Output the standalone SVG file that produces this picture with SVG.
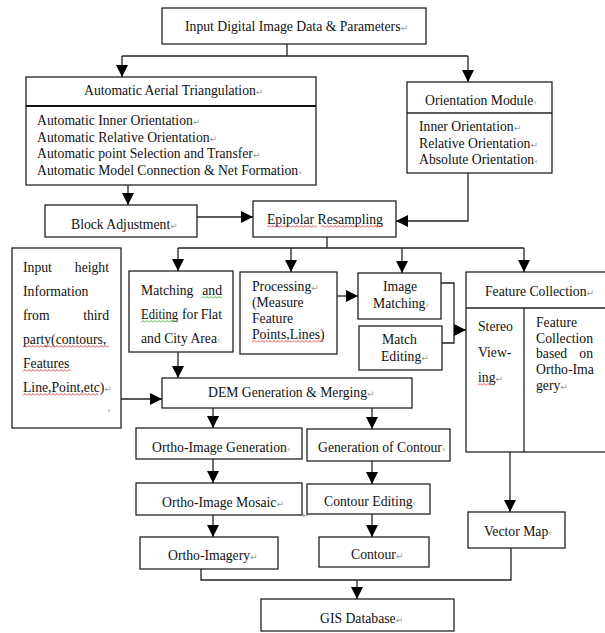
<svg xmlns="http://www.w3.org/2000/svg" width="605" height="633" viewBox="0 0 605 633">
<style>
.b{fill:#fff;stroke:#222;stroke-width:1.3}
.t{font-family:"Liberation Serif","Times New Roman",serif;font-size:13.7px;fill:#111}
.pm{font-family:"DejaVu Sans",sans-serif;font-size:9px;fill:#999}
.c{fill:none;stroke:#222;stroke-width:1.3}
.a{marker-end:url(#ah)}
</style>
<defs>
<marker id="ah" viewBox="0 0 12 12" refX="12" refY="6" markerWidth="12" markerHeight="12" markerUnits="userSpaceOnUse" orient="auto"><path d="M0,0 L12,6 L0,12 z" fill="#000"/></marker>
<pattern id="wr" width="4" height="3" patternUnits="userSpaceOnUse"><path d="M0,2.5 L2,0.5 L4,2.5" fill="none" stroke="#e02020" stroke-width="0.8"/></pattern>
<pattern id="wg" width="4" height="3" patternUnits="userSpaceOnUse"><path d="M0,2.5 L2,0.5 L4,2.5" fill="none" stroke="#20a020" stroke-width="0.8"/></pattern>
</defs>
<rect width="605" height="633" fill="#fff"/>

<g id="connectors">
<path class="c" d="M287,44 V56 M122,56 H468"/>
<path class="c a" d="M122,56 V77"/>
<path class="c a" d="M468,56 V82"/>
<path class="c a" d="M128,185 V205"/>
<path class="c a" d="M197,217 H253"/>
<path class="c a" d="M468,173 V221 H396"/>
<path class="c" d="M327,237 V248 M178,248 H524"/>
<path class="c a" d="M178,248 V271"/>
<path class="c a" d="M291,248 V272"/>
<path class="c a" d="M402,248 V273"/>
<path class="c a" d="M524,248 V272"/>
<path class="c a" d="M178,352 V378"/>
<path class="c a" d="M121,399 H162"/>
<path class="c a" d="M337,296 H358"/>
<path class="c" d="M441,283 H454 V343 H442"/>
<path class="c a" d="M454,330 H466"/>
<path class="c a" d="M213,408 V428"/>
<path class="c a" d="M372,408 V429"/>
<path class="c a" d="M213,459 V483"/>
<path class="c a" d="M372,461 V484"/>
<path class="c a" d="M213,515 V537"/>
<path class="c a" d="M372,514 V537"/>
<path class="c a" d="M510,452 V512"/>
<path class="c" d="M201,569 V580 H511 V548"/>
<path class="c a" d="M357,580 V599"/>
</g>

<g id="input">
<rect class="b" x="162" y="8" width="264" height="36"/>
<text class="t" x="185" y="31">Input Digital Image Data &amp; Parameters<tspan class="pm">↵</tspan></text>
</g>

<g id="aat">
<rect class="b" x="26" y="77" width="290" height="108"/>
<line x1="26" y1="106" x2="316" y2="106" stroke="#111" stroke-width="2.2"/>
<text class="t" x="84" y="95">Automatic Aerial Triangulation<tspan class="pm">↵</tspan></text>
<text class="t" x="37" y="124.5">Automatic Inner Orientation<tspan class="pm">↵</tspan></text>
<text class="t" x="37" y="141.5">Automatic Relative Orientation<tspan class="pm">↵</tspan></text>
<text class="t" x="37" y="158">Automatic point Selection and Transfer<tspan class="pm">↵</tspan></text>
<text class="t" x="37" y="175">Automatic Model Connection &amp; Net Formation<tspan class="pm">‹</tspan></text>
</g>

<g id="orientation">
<rect class="b" x="407" y="82" width="145" height="91"/>
<line class="c" x1="407" y1="113" x2="552" y2="113"/>
<text class="t" x="425" y="105">Orientation Module<tspan class="pm">‹</tspan></text>
<text class="t" x="419" y="131">Inner Orientation<tspan class="pm">↵</tspan></text>
<text class="t" x="419" y="147.5">Relative Orientation<tspan class="pm">↵</tspan></text>
<text class="t" x="419" y="163.5">Absolute Orientation<tspan class="pm">‹</tspan></text>
</g>

<g id="block">
<rect class="b" x="45" y="205" width="152" height="32"/>
<text class="t" x="71" y="229">Block Adjustment<tspan class="pm">↵</tspan></text>
</g>

<g id="epipolar">
<rect class="b" x="253" y="201" width="143" height="36"/>
<text class="t" x="267" y="224">Epipolar Resampling</text>
<rect transform="translate(267,225)" width="50" height="3" fill="url(#wr)"/>
<rect transform="translate(321,225)" width="62" height="3" fill="url(#wr)"/>
</g>

<g id="height">
<rect class="b" x="12" y="248" width="109" height="180"/>
<text class="t" x="23" y="272">Input</text>
<text class="t" x="109" y="272" text-anchor="end">height</text>
<text class="t" x="23" y="296">Information</text>
<text class="t" x="23" y="320">from</text>
<text class="t" x="109" y="320" text-anchor="end">third</text>
<text class="t" x="23" y="344">party(contours,</text>
<rect transform="translate(23,345)" width="86" height="3" fill="url(#wr)"/>
<text class="t" x="23" y="368">Features</text>
<rect transform="translate(23,369)" width="48" height="3" fill="url(#wr)"/>
<text class="t" x="23" y="392">Line,Point,etc)<tspan class="pm">↵</tspan></text>
<rect transform="translate(23,393)" width="76" height="3" fill="url(#wr)"/>
<text class="pm" x="107" y="413">‹</text>
</g>

<g id="matching">
<rect class="b" x="129" y="271" width="104" height="81"/>
<text class="t" x="141" y="295">Matching</text>
<text class="t" x="222" y="295" text-anchor="end">and</text>
<rect transform="translate(201,296)" width="21" height="3" fill="url(#wg)"/>
<text class="t" x="141" y="319" textLength="37" lengthAdjust="spacingAndGlyphs">Editing</text>
<rect transform="translate(141,320)" width="37" height="3" fill="url(#wg)"/>
<text class="t" x="190" y="319" text-anchor="middle">for</text>
<text class="t" x="222" y="319" text-anchor="end">Flat</text>
<text class="t" x="141" y="343">and City Area<tspan class="pm">‹</tspan></text>
</g>

<g id="processing">
<rect class="b" x="240" y="272" width="97" height="82"/>
<text class="t" x="252" y="291">Processing<tspan class="pm">↵</tspan></text>
<text class="t" x="252" y="307">(Measure</text>
<text class="t" x="252" y="323">Feature</text>
<text class="t" x="252" y="339">Points,Lines)</text>
<rect transform="translate(252,340)" width="72" height="3" fill="url(#wr)"/>
</g>

<g id="imagematching">
<rect class="b" x="358" y="273" width="83" height="46"/>
<text class="t" x="383" y="291">Image</text>
<text class="t" x="373" y="308">Matching<tspan class="pm">‹</tspan></text>
</g>

<g id="matchediting">
<rect class="b" x="359" y="326" width="83" height="44"/>
<text class="t" x="382" y="344">Match</text>
<text class="t" x="381" y="361">Editing<tspan class="pm">↵</tspan></text>
</g>

<g id="feature">
<rect class="b" x="466" y="272" width="142" height="180"/>
<line class="c" x1="466" y1="308" x2="608" y2="308"/>
<line class="c" x1="524" y1="308" x2="524" y2="452"/>
<text class="t" x="485" y="296">Feature Collection<tspan class="pm">↵</tspan></text>
<text class="t" x="478" y="331">Stereo</text>
<text class="t" x="478" y="357">View-</text>
<text class="t" x="478" y="382">ing<tspan class="pm">↵</tspan></text>
<rect transform="translate(478,383)" width="16" height="3" fill="url(#wr)"/>
<text class="t" x="536" y="327">Feature</text>
<text class="t" x="536" y="343">Collection</text>
<text class="t" x="536" y="358">based</text>
<text class="t" x="593" y="358" text-anchor="end">on</text>
<text class="t" x="536" y="374">Ortho-Ima</text>
<text class="t" x="536" y="390">gery<tspan class="pm">↵</tspan></text>
</g>

<g id="dem">
<rect class="b" x="162" y="378" width="250" height="30"/>
<text class="t" x="208" y="397">DEM Generation &amp; Merging<tspan class="pm">↵</tspan></text>
</g>

<g id="orthogen">
<rect class="b" x="136" y="428" width="166" height="31"/>
<text class="t" x="152" y="452">Ortho-Image Generation<tspan class="pm">‹</tspan></text>
</g>

<g id="gencontour">
<rect class="b" x="307" y="429" width="143" height="32"/>
<text class="t" x="318" y="452">Generation of Contour<tspan class="pm">‹</tspan></text>
</g>

<g id="orthomosaic">
<rect class="b" x="136" y="483" width="166" height="32"/>
<text class="t" x="162" y="507">Ortho-Image Mosaic<tspan class="pm">↵</tspan></text>
<text class="pm" x="302" y="518">↵</text>
</g>

<g id="contourediting">
<rect class="b" x="307" y="484" width="123" height="30"/>
<text class="t" x="324" y="506">Contour Editing<tspan class="pm">‹</tspan></text>
</g>

<g id="orthoimagery">
<rect class="b" x="140" y="537" width="138" height="32"/>
<text class="t" x="168" y="560">Ortho-Imagery<tspan class="pm">↵</tspan></text>
</g>

<g id="contour">
<rect class="b" x="319" y="537" width="110" height="30"/>
<text class="t" x="351" y="559">Contour<tspan class="pm">↵</tspan></text>
</g>

<g id="vectormap">
<rect class="b" x="468" y="512" width="97" height="36"/>
<text class="t" x="484" y="536">Vector Map<tspan class="pm">‹</tspan></text>
</g>

<g id="gis">
<rect class="b" x="261" y="599" width="193" height="32"/>
<text class="t" x="320" y="623">GIS Database<tspan class="pm">↵</tspan></text>
</g>
</svg>
